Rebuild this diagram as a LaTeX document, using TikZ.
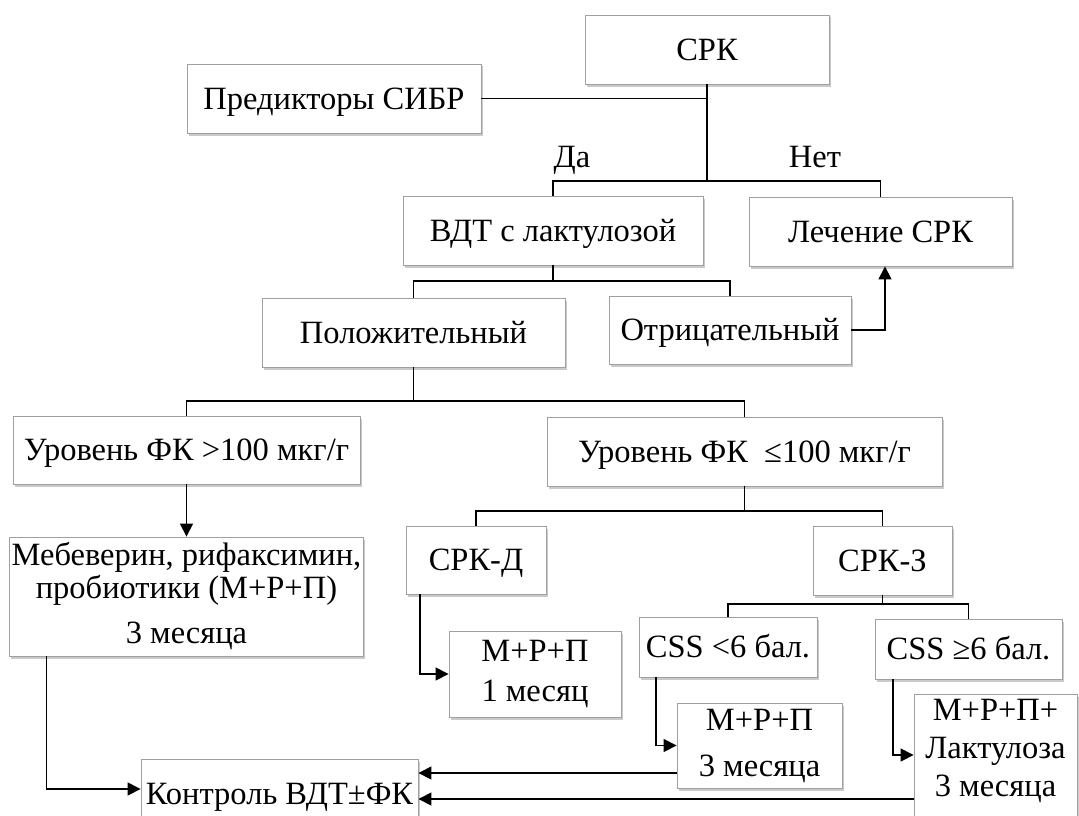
\documentclass[tikz,border=0pt]{standalone}
\usepackage{fontspec}
\setmainfont{Liberation Serif}
\usetikzlibrary{arrows.meta,positioning,shadows}
\definecolor{boxline}{RGB}{160,160,160}
\tikzset{
box/.style={draw=boxline,line width=.9pt,fill=white,align=center,inner sep=2pt,drop shadow={shadow xshift=1.5pt,shadow yshift=-2.5pt,opacity=.35,fill=black!60}},
wh/.style 2 args={minimum width=#1pt,minimum height=#2pt},
single/.style={text height=21.5pt,text depth=0pt},
link/.style={line width=1.6pt},
flow/.style={-{Triangle[length=13pt,width=13pt]},line width=1.6pt}
}

\begin{document}
\begin{tikzpicture}[x=1pt,y=-1pt,font=\fontsize{32.5}{36}\selectfont]
\useasboundingbox (0,0) rectangle (1079,816);
\node[box,single,wh={244}{69}](srk) at (707,49.5){СРК};
\node[box,single,wh={294}{69}](pred) at (334,98.5){Предикторы СИБР};
\node[box,single,wh={300}{69}](vdt) at (553,230.5){ВДТ с лактулозой};
\node[box,single,wh={263}{69}](lech) at (880.5,231.5){Лечение СРК};
\node[box,single,wh={303}{69}](pol) at (413.5,332.5){Положительный};
\node[box,single,wh={242}{68}](otr) at (730,330){Отрицательный};
\node[box,single,wh={347}{68}](fk1) at (186.5,450){Уровень ФК >100 мкг/г};
\node[box,single,wh={395}{69}](fk2) at (744.5,451.5){Уровень ФК~~≤100 мкг/г};
\node[box,wh={349}{119}](meb) at (186.5,596.5){Мебеверин, рифаксимин,\\[-3pt]пробиотики (М+Р+П)\\[9pt]3 месяца};
\node[box,single,wh={140}{68}](sd) at (476,560){СРК-Д};
\node[box,single,wh={139}{69}](sz) at (882.5,560.5){СРК-З};
\node[box,wh={172}{86}](mrp1) at (535,674){М+Р+П\\[4pt]1 месяц};
\node[box,single,wh={178}{60}](css1) at (728,647){CSS <6 бал.};
\node[box,single,wh={187}{60}](css2) at (968.5,649){CSS ≥6 бал.};
\node[box,wh={165}{85}](mrp3) at (759.5,745.5){М+Р+П\\[10pt]3 месяца};
\node[box,wh={163}{132},text depth=25pt](mrpl) at (995.5,760){М+Р+П+\\[2pt]Лактулоза\\[2pt]3 месяца};
\node[box,single,wh={277}{69}](ctrl) at (279.5,793.5){Контроль ВДТ±ФК};
\node[single](da) at (572,157){Да};
\node[single](net) at (815,157){Нет};
\coordinate(b1) at (707,181);
\coordinate(b2) at (553,281);
\coordinate(b3) at (413.5,401);
\coordinate(b4) at (744.5,511);
\coordinate(b5) at (882.5,604);
\draw[link](srk.south)--(b1);\draw[link](pred.east)--(pred.east-|srk.south);
\draw[link](vdt.north)|-(b1)-|(lech.north);
\draw[link](vdt.south)--(b2);\draw[link](pol.north)|-(b2)-|(otr.north);
\draw[flow](otr.east)-|([xshift=4.5pt]lech.south);
\draw[link](pol.south)--(b3);\draw[link](fk1.north)|-(b3)-|(fk2.north);
\draw[flow](fk1.south)--(meb.north);
\draw[link](fk2.south)--(b4);\draw[link](sd.north)|-(b4)-|(sz.north);
\draw[link](sz.south)--(b5);\draw[link](css1.north)|-(b5)-|(css2.north);
\draw[flow]([xshift=-56pt]sd.south)|-(mrp1.west);
\draw[flow]([xshift=-72pt]css1.south)|-(mrp3.west);
\draw[flow]([xshift=-75.5pt]css2.south)|-([yshift=5pt]mrpl.west);
\draw[flow]([xshift=-140pt]meb.south)|-([yshift=4.5pt]ctrl.west);
\path([yshift=-27.5pt]mrp3.west)coordinate(c1);\path([yshift=-39pt]mrpl.west)coordinate(c2);
\draw[flow](c1)--(c1-|ctrl.east);\draw[flow](c2)--(c2-|ctrl.east);
\end{tikzpicture}
\end{document}
